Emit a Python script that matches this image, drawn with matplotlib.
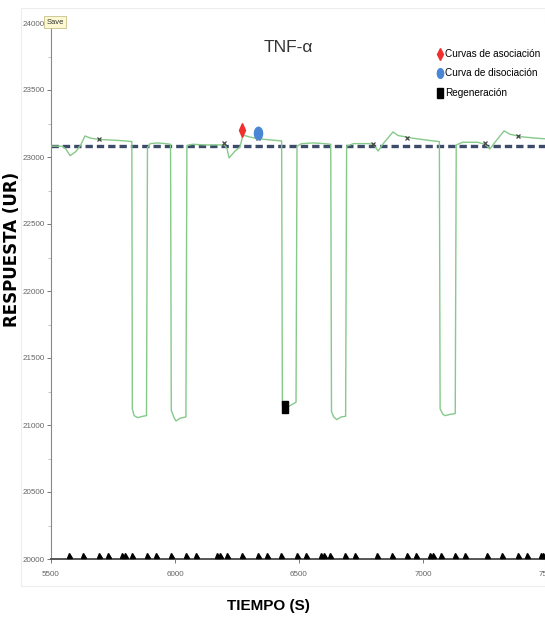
import matplotlib
matplotlib.use("Agg")
import matplotlib.pyplot as plt
from matplotlib import font_manager
from matplotlib.lines import Line2D
from matplotlib.markers import MarkerStyle
from matplotlib.patches import Rectangle
from matplotlib.transforms import Affine2D

# sensorgram (time s, response UR)
trace_t = [5500, 5545, 5560, 5577, 5600, 5620, 5637, 5660, 5700, 5760, 5800, 5826,
           5828, 5835, 5850, 5870, 5885, 5889, 5900, 5930, 5960, 5982,
           5985, 5995, 6004, 6020, 6044, 6048, 6070, 6120, 6200, 6210, 6218, 6240, 6262,
           6274, 6300, 6340, 6400, 6430, 6433, 6438, 6460, 6488, 6492, 6510, 6560, 6600, 6628,
           6631, 6640, 6652, 6670, 6688, 6692, 6720, 6780, 6800, 6819, 6840, 6879, 6900,
           6960, 7020, 7066, 7069, 7080, 7090, 7110, 7130, 7134, 7160, 7220, 7250, 7270,
           7290, 7327, 7350, 7400, 7460, 7500, 7600]
trace_r = [23082, 23080, 23060, 23010, 23040, 23090, 23157, 23140, 23130, 23125, 23120, 23115,
           21120, 21070, 21055, 21065, 21070, 23070, 23100, 23105, 23100, 23095,
           21110, 21060, 21030, 21050, 21060, 23085, 23095, 23090, 23090, 23060, 22993, 23040, 23075,
           23164, 23150, 23135, 23125, 23120, 21150, 21120, 21140, 21170, 23080, 23100, 23105, 23100, 23095,
           21100, 21060, 21040, 21060, 21065, 23080, 23100, 23100, 23095, 23045, 23100, 23187, 23160,
           23140, 23125, 23115, 21120, 21080, 21070, 21080, 21085, 23090, 23110, 23110, 23095, 23060,
           23110, 23195, 23170, 23150, 23140, 23135, 23130]

baseline = 23082

# small cycle marks on the trace
mark_t = [5694, 6198, 6335, 6798, 6935, 7250, 7383]
mark_r = [23134, 23104, 23140, 23097, 23142, 23104, 23157]

# event flags along the time axis
event_t = [5571, 5631, 5694, 5729, 5787, 5797, 5827, 5886, 5925, 5985, 6044, 6083,
           6170, 6180, 6210, 6271, 6333, 6369, 6429, 6490, 6528, 6589, 6599, 6626,
           6686, 6724, 6815, 6875, 6937, 6972, 7030, 7040, 7072, 7130, 7170, 7259,
           7320, 7383, 7418, 7475, 7485]

assoc_t, assoc_r = [6270], [23201]
disoc_t, disoc_r = [6335], [23179]
regen_t, regen_r = [6443], [21134]

names = {f.name for f in font_manager.fontManager.ttflist}
narrow = "Liberation Sans Narrow" if "Liberation Sans Narrow" in names else "Liberation Sans"

W, H = 545, 622
fig = plt.figure(figsize=(W / 100, H / 100), dpi=100)
fig.patches.append(Rectangle((21 / W, 1 - 586 / H), (W - 21) / W, (586 - 8) / H,
                             transform=fig.transFigure, fill=False, zorder=-1,
                             edgecolor="#ededed", linewidth=0.8))

x0, x1 = 5500, 7600
ax = fig.add_axes([51 / W, 1 - 559 / H, (x1 - x0) / 500 * 124 / W, (559 - 23) / H])
ax.set_xlim(x0, x1)
ax.set_ylim(20000, 24000)

ax.axhline(baseline, color="#3d4b6b", linewidth=2.4, linestyle=(0, (2.2, 1.2)), zorder=2)
ax.plot(trace_t, trace_r, color="#86c98a", linewidth=1.0, zorder=3)
ax.plot(mark_t, mark_r, linestyle="none", marker="x", markersize=3,
        markeredgewidth=0.9, color="#444444", zorder=4)
ax.plot(event_t, [20030] * len(event_t), linestyle="none", marker="^",
        markersize=3.6, color="black", clip_on=False, zorder=4)

diamond = MarkerStyle("D", transform=Affine2D().scale(0.45, 1))
ellipse = MarkerStyle("o", transform=Affine2D().scale(0.65, 1))
tall_sq = MarkerStyle("s", transform=Affine2D().scale(0.6, 1))
ax.plot(assoc_t, assoc_r, linestyle="none", marker=diamond, markersize=7,
        color="#f0302c", zorder=5)
ax.plot(disoc_t, disoc_r, linestyle="none", marker=ellipse, markersize=9,
        color="#4a86d6", zorder=5)
ax.plot(regen_t, regen_r, linestyle="none", marker=tall_sq, markersize=8,
        color="black", zorder=5)

for s in ["top", "right"]:
    ax.spines[s].set_visible(False)
ax.spines["left"].set_color("#888888")
ax.spines["left"].set_linewidth(0.8)
ax.spines["bottom"].set_color("#555555")
ax.spines["bottom"].set_linewidth(1.4)

ax.set_yticks(range(20000, 24001, 500))
ax.set_yticks(range(20250, 24000, 500), minor=True)
ax.set_xticks(range(5500, 7501, 500))
ax.tick_params(axis="both", which="major", length=3, width=0.7, color="#777777",
               labelsize=5.8, labelcolor="#666666", pad=1.5)
ax.tick_params(axis="y", which="minor", length=2, width=0.5, color="#aaaaaa")
ax.tick_params(axis="x", pad=6)
for lab in ax.get_xticklabels() + ax.get_yticklabels():
    lab.set_family(narrow)

fig.text(288 / W, 1 - 48 / H, "TNF-α", family=[narrow, "DejaVu Sans"], fontsize=12.5,
         color="#333333", ha="center", va="center")
fig.text(268 / W, 1 - 606 / H, "TIEMPO (S)", family=narrow, fontsize=11,
         fontweight="bold", color="black", ha="center", va="center")
fig.text(12 / W, 1 - 249 / H, "RESPUESTA (UR)", family="DejaVu Sans", fontsize=12,
         fontweight="bold", color="black", rotation=90, ha="center", va="center")

fig.text(55 / W, 1 - 22 / H, "Save", family=narrow, fontsize=5.5, color="#333333",
         ha="center", va="center",
         bbox=dict(boxstyle="square,pad=0.35", facecolor="#fbf8d2", edgecolor="#c8c08a",
                   linewidth=0.6))

handles = [
    Line2D([], [], linestyle="none", marker=diamond, markersize=6, color="#f0302c"),
    Line2D([], [], linestyle="none", marker=ellipse, markersize=7, color="#4a86d6"),
    Line2D([], [], linestyle="none", marker=tall_sq, markersize=6.5, color="black"),
]
labels = ["Curvas de asociación", "Curva de disociación", "Regeneración"]
fig.legend(handles, labels, loc="upper left", bbox_to_anchor=(432 / W, 1 - 44 / H),
           frameon=False, handlelength=0.5, handletextpad=0.3, labelspacing=0.95,
           borderpad=0, prop=dict(family=narrow, size=7.2))

fig.savefig("out.png", dpi=100)
